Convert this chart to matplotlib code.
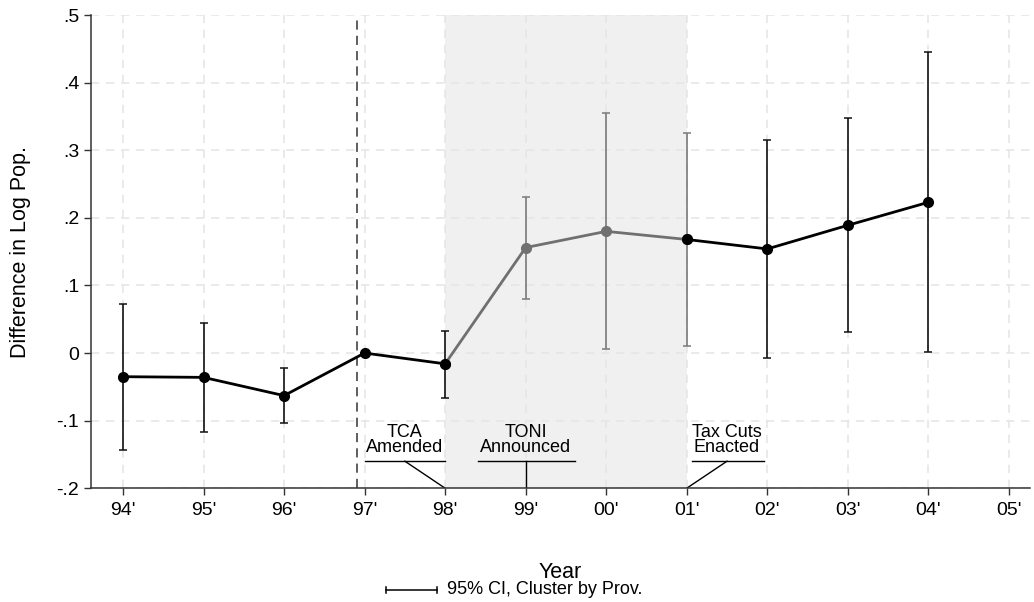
import numpy as np
import matplotlib.pyplot as plt

plt.rcParams['font.family'] = ['Liberation Sans', 'DejaVu Sans']

# Coefficients and 95% CI by year (1997 is the reference year)
years = ["94'", "95'", "96'", "97'", "98'", "99'", "00'", "01'", "02'", "03'", "04'", "05'"]
coef = [-0.035, -0.036, -0.063, 0.0, -0.016, 0.156, 0.180, 0.168, 0.154, 0.189, 0.223]
ci_lo = [-0.144, -0.117, -0.104, 0.0, -0.066, 0.080, 0.006, 0.011, -0.007, 0.031, 0.001]
ci_hi = [0.073, 0.045, -0.022, 0.0, 0.033, 0.231, 0.355, 0.325, 0.315, 0.347, 0.445]

pre_idx = [0, 1, 2, 3, 4]
mid_idx = [4, 5, 6, 7]
post_idx = [7, 8, 9, 10]
black_ci = [0, 1, 2, 4, 8, 9, 10]
gray_ci = [5, 6, 7]

events = ["TCA\nAmended", "TONI\nAnnounced", "Tax Cuts\nEnacted"]

coef = np.array(coef)
lo = np.array(ci_lo)
hi = np.array(ci_hi)
x = np.arange(len(coef))

fig = plt.figure(figsize=(10.34, 6.02), dpi=100)
ax = fig.add_axes([0.088, 0.189, 0.908, 0.786])

# treatment window
ax.axvspan(4, 7, ymin=0, ymax=1, color='#f0f0f0', zorder=0, lw=0)

ax.grid(True, color='#e6e6e6', ls=(0, (5, 4)), lw=1.2, zorder=0.5)
ax.set_axisbelow(True)

# confidence intervals
for idx, col in [(black_ci, '#111111'), (gray_ci, '#7a7a7a')]:
    ax.errorbar(x[idx], coef[idx], yerr=[coef[idx] - lo[idx], hi[idx] - coef[idx]],
                fmt='none', ecolor=col, elinewidth=1.2, capsize=3, capthick=1.1, zorder=2)

ax.plot(x[mid_idx], coef[mid_idx], color='#707070', lw=2, marker='o', ms=7, zorder=3)
ax.plot(x[pre_idx], coef[pre_idx], color='black', lw=2, marker='o', ms=7, zorder=4)
ax.plot(x[post_idx], coef[post_idx], color='black', lw=2, marker='o', ms=7, zorder=4)

ax.axvline(2.9, color='#333333', lw=1.1, ls=(0, (6, 4)), zorder=2)

# event labels
fs_ev = 13
ty = -0.1525
ax.text(3.5, ty, events[0], ha='center', va='bottom', fontsize=fs_ev, linespacing=0.82)
ax.plot([3.0, 4.0], [-0.16, -0.16], color='black', lw=1)
ax.plot([3.5, 4.0], [-0.16, -0.2], color='black', lw=1)

ax.text(5.0, ty, events[1], ha='center', va='bottom', fontsize=fs_ev, linespacing=0.82)
ax.plot([4.41, 5.61], [-0.16, -0.16], color='black', lw=1)
ax.plot([5.0, 5.0], [-0.16, -0.2], color='black', lw=1)

ax.text(7.5, ty, events[2], ha='center', va='bottom', fontsize=fs_ev, linespacing=0.82)
ax.plot([7.06, 7.96], [-0.16, -0.16], color='black', lw=1)
ax.plot([7.5, 7.0], [-0.16, -0.2], color='black', lw=1)

ax.set_xlim(-0.397, 11.26)
ax.set_ylim(-0.2, 0.5)
ax.set_xticks(range(len(years)))
ax.set_xticklabels(years)
yt = np.round(np.arange(-0.2, 0.51, 0.1), 1)
ax.set_yticks(yt)
ax.set_yticklabels(['-.2', '-.1', '0', '.1', '.2', '.3', '.4', '.5'])
ax.tick_params(labelsize=14, length=5, width=1, color='#333333')
ax.tick_params(axis='x', pad=5)
ax.set_xlabel('Year', fontsize=15.5)
ax.set_ylabel('Difference in Log Pop.', fontsize=15.5)
ax.xaxis.set_label_coords(0.5, -0.155)
ax.yaxis.set_label_coords(-0.064, 0.5)
for s in ['top', 'right']:
    ax.spines[s].set_visible(False)
for s in ['left', 'bottom']:
    ax.spines[s].set_color('#333333')
    ax.spines[s].set_linewidth(1.1)

# legend key for the CI bars, drawn in figure pixels
W, H = 1034, 602
ly = 1 - 590 / H
fig.add_artist(plt.Line2D([386 / W, 437 / W], [ly, ly], color='black', lw=1.1))
for px in (386, 437):
    fig.add_artist(plt.Line2D([px / W, px / W], [ly - 3 / H, ly + 3 / H], color='black', lw=1.1))
fig.text(447 / W, ly, '95% CI, Cluster by Prov.', fontsize=13, va='center', ha='left')

fig.savefig('out.png', dpi=100)
